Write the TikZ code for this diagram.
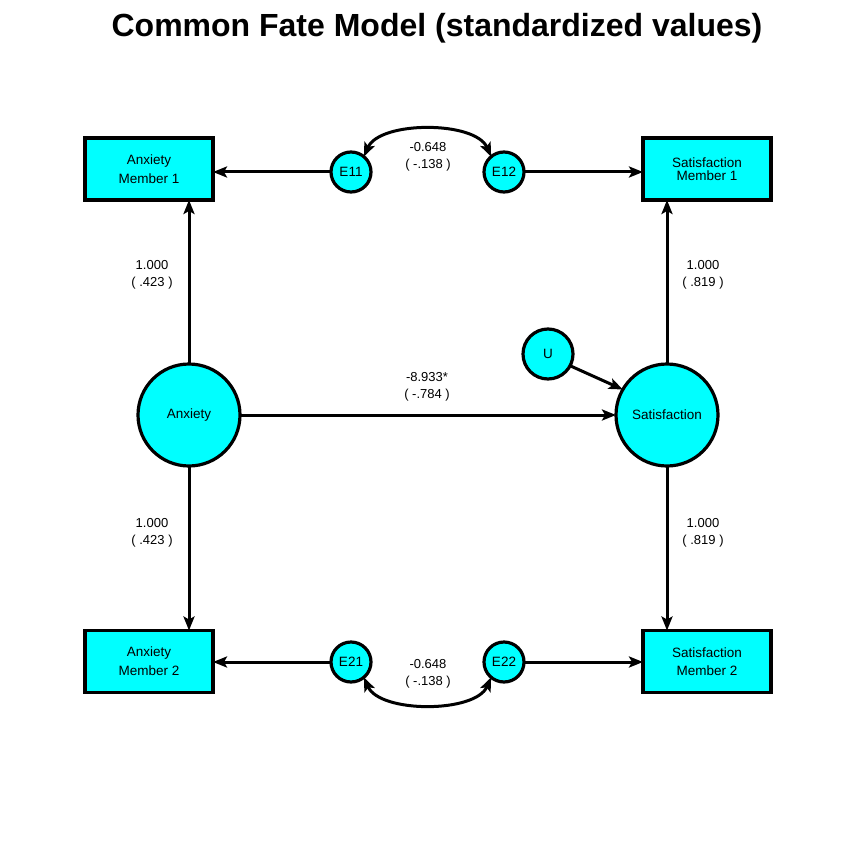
\documentclass[tikz,border=0pt]{standalone}
\usepackage{fontspec}
\setmainfont{Liberation Sans}
\usetikzlibrary{arrows.meta}
\definecolor{cyanfill}{HTML}{00FFFF}
\begin{document}
\begin{tikzpicture}[x=1pt,y=-1pt,
  every node/.style={inner sep=0pt,outer sep=0pt},
  edgeline/.style={line width=3pt,-{Stealth[length=14pt,width=11pt,inset=3pt]}},
  dbl/.style={line width=3pt,{Stealth[length=14pt,width=11pt,inset=3pt]}-{Stealth[length=14pt,width=11pt,inset=3pt]}},
  obs/.style={draw,line width=3.2pt,fill=cyanfill,minimum width=128pt,minimum height=62pt,align=center,font=\fontsize{13.5}{19}\selectfont},
  latent/.style={draw,circle,line width=3.2pt,fill=cyanfill,minimum size=102pt,font=\fontsize{13.5}{16}\selectfont},
  errc/.style={draw,circle,line width=3.2pt,fill=cyanfill,minimum size=40pt,font=\fontsize{13.5}{16}\selectfont},
  lab/.style={align=center,font=\fontsize{13}{17}\selectfont}
]
\useasboundingbox (0,0) rectangle (850,850);
\node[font=\fontsize{32}{36}\selectfont\bfseries] (title) at (437,28) {Common Fate Model (standardized values)};

\node[obs] (am1) at (149,169) {Anxiety\\Member 1};
\node[obs] (sm1) at (707,169) {Satisfaction\\[-6pt]Member 1};
\node[obs] (am2) at (149,661.5) {Anxiety\\Member 2};
\node[obs] (sm2) at (707,661.5) {Satisfaction\\[-1pt]Member 2};

\node[errc] (e11) at (351,172) {E11};
\node[errc] (e12) at (504,172) {E12};
\node[errc] (e21) at (351,662) {E21};
\node[errc] (e22) at (504,662) {E22};

\node[latent] (anx) at (189,415) {Anxiety};
\node[latent] (sat) at (667,415) {Satisfaction};
\node[errc,minimum size=50pt] (u) at (548,354) {U};

\draw[edgeline] (e11.west) -- (e11.west -| am1.east);
\draw[edgeline] (e12.east) -- (e12.east -| sm1.west);
\draw[edgeline] (e21.west) -- (e21.west -| am2.east);
\draw[edgeline] (e22.east) -- (e22.east -| sm2.west);

\draw[edgeline] (anx.north) -- (anx.north |- am1.south);
\draw[edgeline] (anx.south) -- (anx.south |- am2.north);
\draw[edgeline] (sat.north) -- (sat.north |- sm1.south);
\draw[edgeline] (sat.south) -- (sat.south |- sm2.north);

\draw[edgeline] (anx.east) -- (sat.west);
\draw[edgeline] (u.-28) -- (sat.150);

\draw[dbl] (e11.50) .. controls +(16,-36) and +(-16,-36) .. (e12.130);
\draw[dbl] (e21.-50) .. controls +(16,36) and +(-16,36) .. (e22.-130);

\node[lab] (l1) at (428,156.5) {-0.648\\( -.138 )};
\node[lab] (l2) at (428,674) {-0.648\\( -.138 )};
\node[lab] (l3) at (427,387) {-8.933*\\( -.784 )};
\node[lab] (l4) at (152,274.5) {1.000\\( .423 )};
\node[lab] (l5) at (152,533) {1.000\\( .423 )};
\node[lab] (l6) at (703,274.5) {1.000\\( .819 )};
\node[lab] (l7) at (703,533) {1.000\\( .819 )};
\end{tikzpicture}
\end{document}
